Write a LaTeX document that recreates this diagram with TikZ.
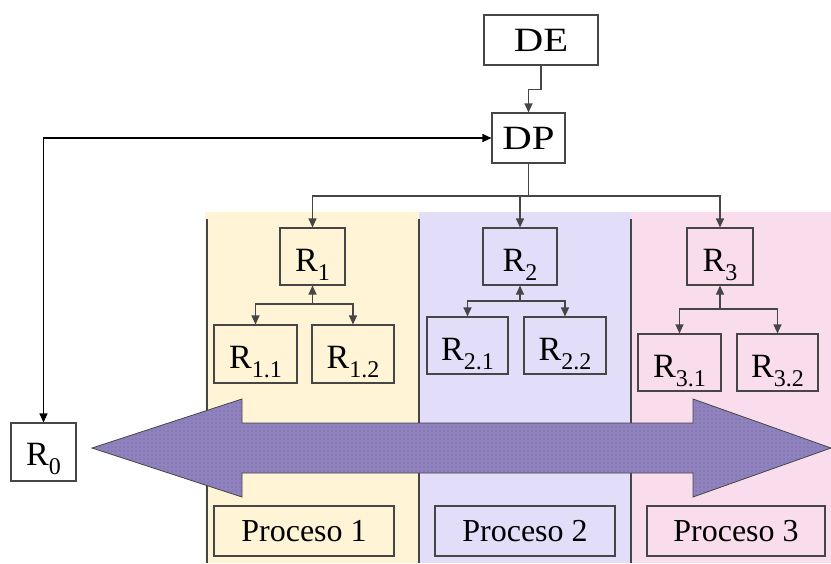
\documentclass[tikz,border=0pt]{standalone}
\usepackage{fontspec}
\setmainfont{Liberation Serif}
\usetikzlibrary{arrows.meta,patterns.meta}

\definecolor{bandA}{RGB}{255,244,214}
\definecolor{bandB}{RGB}{226,222,250}
\definecolor{bandC}{RGB}{250,221,236}
\definecolor{flow}{RGB}{143,130,191}
\definecolor{edge}{RGB}{70,70,70}

% sparse dot texture for the flow arrow
\tikzdeclarepattern{
  name=sparsedots,
  type=uncolored,
  bottom left={(-1pt,-1pt)},
  top right={(3pt,3pt)},
  tile size={(4pt,4pt)},
  code={\pgfpathcircle{\pgfpointorigin}{0.45pt}\pgfusepath{fill}}
}

% lowered subscript in the text font, adding no depth
\newcommand\lowsub[1]{\raisebox{-9pt}[\height][0pt]{\fontsize{24}{24}\selectfont #1}}
% wide lettering for the two head boxes
\newcommand\widetext[1]{\scalebox{1.2}[1]{#1}}

\tikzset{
  box/.style={draw=edge, line width=1.1pt, inner sep=0pt,
    font=\fontsize{32}{32}\selectfont},
  rbox/.style={box, font=\fontsize{34}{34}\selectfont, text height=29pt, text depth=0pt},
  link/.style={draw=edge, line width=1.1pt},
  tip/.style={-{Triangle[length=9pt,width=8pt]}},
  backtip/.style={{Triangle[length=9pt,width=8pt]}-},
  bothtip/.style={{Triangle[length=9pt,width=8pt]}-{Triangle[length=9pt,width=8pt]}},
  divider/.style={draw=edge, line width=1.1pt}
}

\begin{document}
\begin{tikzpicture}[x=1pt,y=-1pt]
\useasboundingbox (0,0) rectangle (831,563);

% process bands
\fill[bandA] (205,212) rectangle (419,563);
\fill[bandB] (419,212) rectangle (631,563);
\fill[bandC] (631,212) rectangle (831,563);
\draw[divider] (207,219) -- (207,563);
\draw[divider] (419,219) -- (419,563);
\draw[divider] (631,219) -- (631,563);

% shared flow arrow across the processes
\path[fill=flow] (92,448) -- (242,399) -- (242,423) -- (693,423) -- (693,399)
  -- (831,448) -- (693,497) -- (693,473) -- (242,473) -- (242,497) -- cycle;
\path[pattern=sparsedots, pattern color=black!80] (92,448) -- (242,399) -- (242,423)
  -- (693,423) -- (693,399) -- (831,448) -- (693,497) -- (693,473) -- (242,473)
  -- (242,497) -- cycle;
\draw[draw=edge, line width=0.8pt] (92,448) -- (242,399) -- (242,423) -- (693,423)
  -- (693,399) -- (831,448) -- (693,497) -- (693,473) -- (242,473) -- (242,497) -- cycle;

% nodes
\node[box, fill=white, font=\fontsize{34}{34}\selectfont, minimum width=114pt, minimum height=50pt] (DE) at (541,40) {\widetext{DE}};
\node[box, fill=white, font=\fontsize{34}{34}\selectfont, minimum width=73pt, minimum height=50pt] (DP) at (528.5,138) {\widetext{DP}};
\node[rbox, fill=white, text height=26pt, minimum width=65pt, minimum height=58pt] (R0) at (43.5,452) {R\lowsub{0}};

\node[rbox, minimum width=65pt, minimum height=57pt] (R1) at (312.5,256.5) {R\lowsub{1}};
\node[rbox, minimum width=74pt, minimum height=57pt] (R2) at (520,256.5) {R\lowsub{2}};
\node[rbox, minimum width=66pt, minimum height=57pt] (R3) at (720,256.5) {R\lowsub{3}};

\node[rbox, minimum width=83pt, minimum height=58pt] (R11) at (255.5,354) {R\lowsub{1.1}};
\node[rbox, minimum width=82pt, minimum height=58pt] (R12) at (353,354) {R\lowsub{1.2}};
\node[rbox, minimum width=81pt, minimum height=57pt] (R21) at (467.5,345.5) {R\lowsub{2.1}};
\node[rbox, minimum width=82pt, minimum height=57pt] (R22) at (565,345.5) {R\lowsub{2.2}};
\node[rbox, minimum width=83pt, minimum height=57pt] (R31) at (679.5,362.5) {R\lowsub{3.1}};
\node[rbox, minimum width=81pt, minimum height=57pt] (R32) at (777.5,362.5) {R\lowsub{3.2}};

\node[box, minimum width=180pt, minimum height=50pt] (P1) at (304,531) {Proceso 1};
\node[box, minimum width=180pt, minimum height=50pt] (P2) at (525,531) {Proceso 2};
\node[box, minimum width=178pt, minimum height=50pt] (P3) at (736,531) {Proceso 3};

% junction points
\coordinate (bus) at (528.5,196);
\coordinate (j1) at (312.5,304);
\coordinate (j2) at (520,301);
\coordinate (j3) at (720,309);

% connectors
\draw[link, tip] (DE.south) -- ++(0,24) -| (DP.north);
\draw[link, draw=black, bothtip] (DP.west) -| (R0.north);
\draw[link] (DP.south) -- (bus);
\draw[link, tip] (bus) -| (R1.north);
\draw[link, tip] (bus) -| (R2.north);
\draw[link, tip] (bus) -| (R3.north);

\draw[link, backtip] (R1.south) -- (j1);
\draw[link, tip] (j1) -| (R11.north);
\draw[link, tip] (j1) -| (R12.north);
\draw[link, backtip] (R2.south) -- (j2);
\draw[link, tip] (j2) -| (R21.north);
\draw[link, tip] (j2) -| (R22.north);
\draw[link, backtip] (R3.south) -- (j3);
\draw[link, tip] (j3) -| (R31.north);
\draw[link, tip] (j3) -| (R32.north);
\end{tikzpicture}
\end{document}
